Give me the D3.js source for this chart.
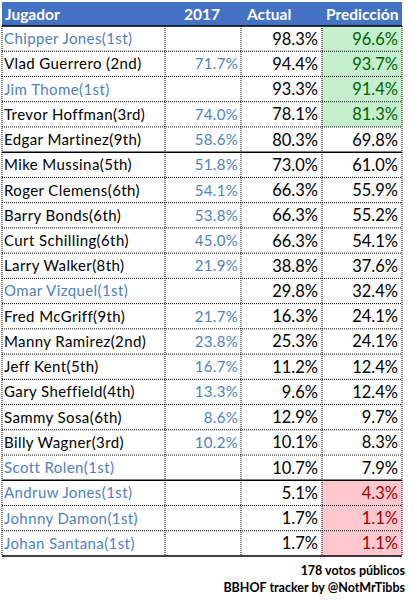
<!DOCTYPE html>
<html><head><meta charset="utf-8">
<script src="https://cdn.jsdelivr.net/npm/d3@7"></script>
<style>body{margin:0;background:#fff}</style></head>
<body><svg id="c" width="415" height="603"></svg>
<script>
const headers = ["Jugador","2017","Actual","Predicción"];
const players = ["Chipper Jones(1st)","Vlad Guerrero (2nd)","Jim Thome(1st)","Trevor Hoffman(3rd)","Edgar Martinez(9th)","Mike Mussina(5th)","Roger Clemens(6th)","Barry Bonds(6th)","Curt Schilling(6th)","Larry Walker(8th)","Omar Vizquel(1st)","Fred McGriff(9th)","Manny Ramirez(2nd)","Jeff Kent(5th)","Gary Sheffield(4th)","Sammy Sosa(6th)","Billy Wagner(3rd)","Scott Rolen(1st)","Andruw Jones(1st)","Johnny Damon(1st)","Johan Santana(1st)"];
const prev2017 = [null,71.7,null,74.0,58.6,51.8,54.1,53.8,45.0,21.9,null,21.7,23.8,16.7,13.3,8.6,10.2,null,null,null,null];
const actual = [98.3,94.4,93.3,78.1,80.3,73.0,66.3,66.3,66.3,38.8,29.8,16.3,25.3,11.2,9.6,12.9,10.1,10.7,5.1,1.7,1.7];
const prediccion = [96.6,93.7,91.4,81.3,69.8,61.0,55.9,55.2,54.1,37.6,32.4,24.1,24.1,12.4,12.4,9.7,8.3,7.9,4.3,1.1,1.1];
const footer = ["178 votos públicos","BBHOF tracker by @NotMrTibbs"];

const svg = d3.select("#c");
const font = "Lato, 'Open Sans', sans-serif";
const colEdges = [2,165,241,322,402];
const headH = 24, top0 = 2;
const y = d3.scaleBand().domain(d3.range(players.length)).range([top0+headH, 556]);
const bh = y.bandwidth();
const blue = "#4f81bd";

svg.append("rect").attr("x",2).attr("y",top0).attr("width",400).attr("height",headH).attr("fill","#4472c4");
const hx = [5, 220, 247, 326], ha = ["start","end","start","start"];
headers.forEach((h,i)=>svg.append("text").attr("x",hx[i]).attr("y",top0+18).attr("text-anchor",ha[i])
  .attr("fill","#fff").attr("font-weight","bold").attr("font-size",15.5).attr("font-family",font).text(h));

const rows = svg.selectAll("g.r").data(players).join("g").attr("transform",(d,i)=>`translate(0,${y(i)})`);
rows.append("rect").attr("x",322).attr("width",80).attr("height",bh)
  .attr("fill",(d,i)=> i<4 ? "#c6efce" : i>=18 ? "#ffc7ce" : "#fff");
rows.append("text").attr("x",4).attr("y",bh/2+5.5).attr("font-size",15).attr("letter-spacing",0.4).attr("font-family",font)
  .attr("fill",(d,i)=>prev2017[i]==null?blue:"#000").text(d=>d);
rows.append("text").attr("x",238).attr("y",bh/2+5.5).attr("text-anchor","end").attr("font-size",15).attr("letter-spacing",0.3).attr("font-family",font)
  .attr("fill",blue).text((d,i)=>prev2017[i]==null?"":prev2017[i].toFixed(1)+"%");
rows.append("text").attr("x",318).attr("y",bh/2+6).attr("text-anchor","end").attr("font-size",16.5).attr("font-family",font)
  .attr("fill","#000").text((d,i)=>actual[i].toFixed(1)+"%");
rows.append("text").attr("x",398).attr("y",bh/2+6).attr("text-anchor","end").attr("font-size",16.5).attr("font-family",font)
  .attr("fill",(d,i)=> i<4 ? "#006100" : i>=18 ? "#9c0006" : "#000").text((d,i)=>prediccion[i].toFixed(1)+"%");

const g = svg.append("g").attr("stroke","#000").attr("fill","none");
d3.range(players.length+1).forEach(i=>{
  const yy = i<players.length ? y(i) : 556;
  const solid = i===0 || i===5 || i===18 || i===players.length;
  g.append("line").attr("x1",2).attr("x2",402).attr("y1",yy).attr("y2",yy)
   .attr("stroke-width",solid?1.5:1).attr("stroke-dasharray",solid?null:"1,1");
});
colEdges.forEach(cx=>g.append("line").attr("x1",cx).attr("x2",cx).attr("y1",top0+headH).attr("y2",556)
  .attr("stroke-width",1).attr("stroke-dasharray","1,1"));
footer.forEach((t,i)=>svg.append("text").attr("x",405).attr("y",575+i*17).attr("text-anchor","end")
  .attr("font-weight","bold").attr("font-size",12.5).attr("font-family",font).text(t));
</script></body></html>
